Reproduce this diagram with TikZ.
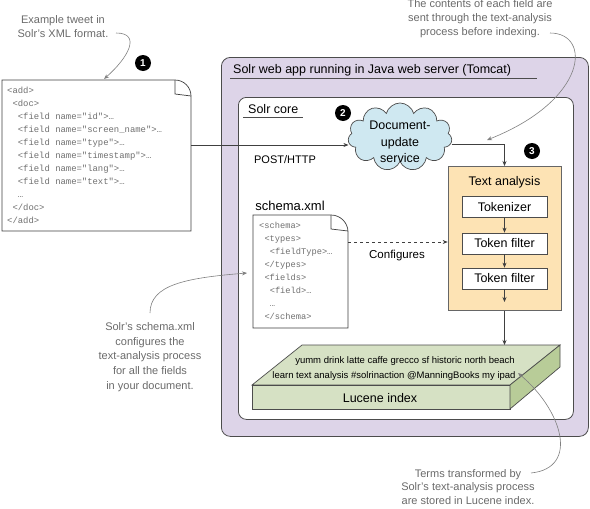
\documentclass[tikz,border=0pt]{standalone}
\usepackage{fontspec}
\setmainfont{Liberation Sans}
\setmonofont{Liberation Mono}
\usetikzlibrary{shapes.symbols,arrows.meta}
\definecolor{webfill}{HTML}{DDD4E8}
\definecolor{tafill}{HTML}{FDE3B4}
\definecolor{cloudfill}{HTML}{CFE8F1}
\definecolor{lucfill}{HTML}{D6E1C4}
\definecolor{lucside}{HTML}{B8CC98}
\definecolor{notegray}{HTML}{6A6A6A}
\definecolor{codegray}{HTML}{707070}
\begin{document}
\begin{tikzpicture}
    [x=1pt,y=-1pt,every node/.style={inner sep=0pt, font=\fontsize{12.5}{15}\selectfont},
     frame/.style={draw=black!70, line width=0.8pt, rounded corners=9pt, anchor=north west},
     badge/.style={circle, fill=black, text=white, minimum size=16pt, font=\fontsize{10}{10}\selectfont\bfseries},
     stagebox/.style={draw=black!70, fill=white, line width=0.7pt, minimum width=85pt, minimum height=21pt},
     note/.style={text=notegray, align=center, font=\fontsize{11}{14}\selectfont},
     code/.style={text=codegray, anchor=base west, font=\fontsize{8.9}{13}\ttfamily},
     link/.style={-{Stealth[length=5pt,width=4pt]}, draw=black!75, line width=0.6pt},
     pointer/.style={-{Stealth[length=5pt,width=4pt]}, draw=gray, line width=0.6pt}]
    \useasboundingbox (0,0) rectangle (590,509);

    % containers
    \node[frame, fill=webfill, minimum width=367pt, minimum height=379pt] (webapp) at (221,57) {};
    \node[frame, fill=white, rounded corners=8pt, minimum width=335pt, minimum height=322pt] (core) at (238,97) {};
    \node[anchor=west] (webtitle) at (233,70) {Solr web app running in Java web server (Tomcat)};
    \draw[black!70] (230,78) -- (537,78);
    \node[anchor=west] (coretitle) at (248,109) {Solr core};
    \draw[black!70] (243,117) -- (303,117);

    % example tweet
    \draw[black!75, line width=0.7pt, fill=white] (2,80) -- (175,80) arc[start angle=-90, end angle=0, radius=16] -- (191,231) -- (2,231) -- cycle;
    \draw[black!75, line width=0.7pt] (175,80) -- (175,94) -- (191,96);
    \foreach \ind/\txt [count=\i] in {0/{<add>}, 1/{<doc>}, 2/{<field name="id">…}, 2/{<field name="screen\_name">…},
        2/{<field name="type">…}, 2/{<field name="timestamp">…}, 2/{<field name="lang">…}, 2/{<field name="text">…},
        2/{…}, 1/{</doc>}, 0/{</add>}}
      \node[code] (xml\i) at (7+5.34*\ind, 80+13*\i) {\txt};
    \coordinate (xmlout) at (191,145);

    % schema.xml
    \node (schematitle) at (290,206) {\fontsize{13}{15}\selectfont schema.xml};
    \draw[black!75, line width=0.7pt, fill=white] (253,215) -- (331,215) arc[start angle=-90, end angle=0, radius=17] -- (348,328) -- (253,328) -- cycle;
    \draw[black!75, line width=0.7pt] (331,215) -- (331,229) -- (348,231);
    \foreach \ind/\txt [count=\i] in {0/{<schema>}, 1/{<types>}, 2/{<fieldType>…}, 1/{</types>},
        1/{<fields>}, 2/{<field>…}, 2/{…}, 1/{</schema>}}
      \node[code, font=\fontsize{8.7}{12}\ttfamily] (schema\i) at (259+5.3*\ind, 216+12.9*\i) {\txt};
    \coordinate (schemaout) at (348,242);

    % document-update service
    \node[cloud, cloud puffs=11, aspect=1.6, draw=black!70, line width=0.7pt, fill=cloudfill,
          minimum width=104pt, minimum height=68pt] (docupd) at (400,137) {};
    \node[align=center, font=\fontsize{12.5}{16.5}\selectfont] (docupdtxt) at (400,142) {Document-\\update\\service};

    % text analysis chain
    \node[draw=black!60, line width=0.7pt, fill=tafill, anchor=north, minimum width=113pt, minimum height=144pt] (textana) at (504.5,166) {};
    \node (tatitle) at (504.5,182) {Text analysis};
    \node[stagebox] (tok) at (504.5,207) {Tokenizer};
    \node[stagebox] (filt1) at (504.5,243.5) {Token filter};
    \node[stagebox] (filt2) at (504.5,278.5) {Token filter};
    \coordinate (taend) at (504.5,302);

    % lucene index slab
    \draw[black!70, line width=0.7pt, fill=lucfill] (302,345) -- (560,345) -- (510,385) -- (252,385) -- cycle;
    \draw[black!70, line width=0.7pt, fill=lucfill] (252,385) rectangle (510,409);
    \draw[black!70, line width=0.7pt, fill=lucside] (510,385) -- (560,345) -- (560,367) -- (510,409) -- cycle;
    \node (lucwords1) at (405,361) {\fontsize{9.5}{11}\selectfont yumm drink latte caffe grecco sf historic north beach};
    \node (lucwords2) at (394,376) {\fontsize{9.5}{11}\selectfont learn text analysis \#solrinaction @ManningBooks my ipad};
    \node (lucname) at (380,398) {Lucene index};
    \coordinate (luctop) at (504.5,345);
    \coordinate (ipadend) at (518,373);

    % badges
    \node[badge] (b1) at (143,63) {1};
    \node[badge] (b2) at (343,113) {2};
    \node[badge] (b3) at (532,151) {3};

    % flow
    \draw[link] (xmlout) -- (xmlout -| docupd.west);
    \node[font=\fontsize{11}{13}\selectfont] (post) at (285,160) {POST/HTTP};
    \draw[link] ([yshift=-7pt]docupd.east) -| (textana.north);
    \foreach \from/\to in {tok/filt1, filt1/filt2, filt2/taend, textana/luctop}
      \draw[link] (\from.south) -- (\to);
    \draw[link, dashed] (schemaout) -- (schemaout -| textana.west);
    \node[font=\fontsize{11.5}{13}\selectfont] (conf) at (397,256) {Configures};

    % notes
    \node[note] (tweetnote) at (63,27) {Example tweet in\\Solr’s XML format.};
    \node[note] (fieldnote) at (480,19) {The contents of each field are\\sent through the text-analysis\\process before indexing.};
    \node[note, font=\fontsize{11}{14.8}\selectfont] (schemanote) at (150,357) {Solr’s schema.xml\\configures the\\text-analysis process\\for all the fields\\in your document.};
    \node[note, font=\fontsize{11}{13.5}\selectfont] (termsnote) at (468,487) {Terms transformed by\\Solr’s text-analysis process\\are stored in Lucene index.};
    \draw[pointer] (116,33) .. controls (142,33) and (128,58) .. (104,79);
    \draw[pointer] (550,33) .. controls (592,33) and (588,100) .. (487,140);
    \draw[pointer] (150,313) .. controls (150,285) and (185,278) .. (247,273);
    \draw[pointer] (531,473) .. controls (580,468) and (562,410) .. (ipadend);
\end{tikzpicture}
\end{document}
